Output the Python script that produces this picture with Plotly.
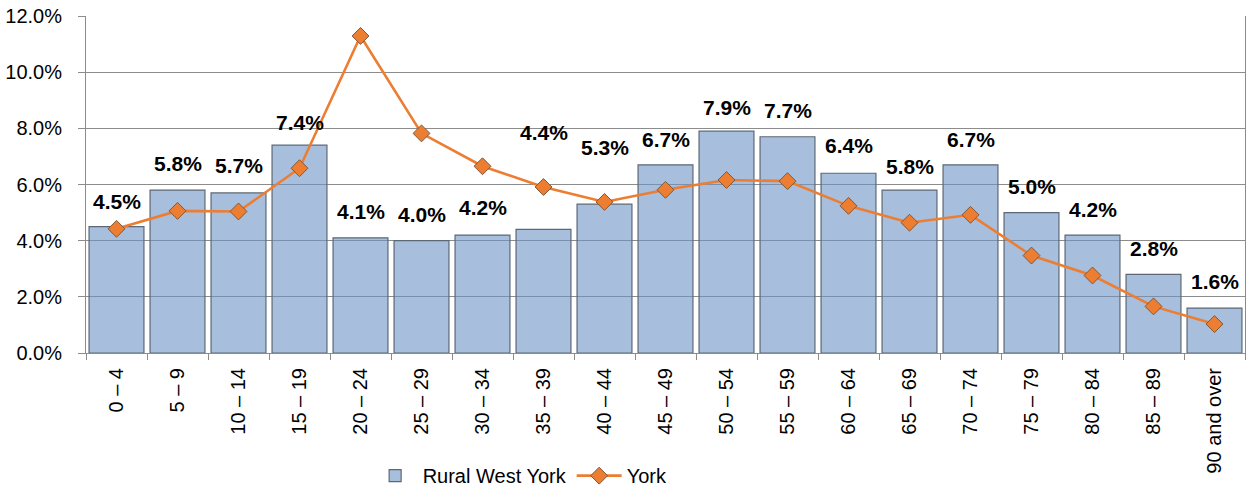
import plotly.graph_objects as go

categories = ["0 – 4", "5 – 9", "10 – 14", "15 – 19", "20 – 24", "25 – 29", "30 – 34",
              "35 – 39", "40 – 44", "45 – 49", "50 – 54", "55 – 59", "60 – 64", "65 – 69",
              "70 – 74", "75 – 79", "80 – 84", "85 – 89", "90 and over"]
rural_west_york = [4.5, 5.8, 5.7, 7.4, 4.1, 4.0, 4.2, 4.4, 5.3, 6.7, 7.9, 7.7, 6.4, 5.8,
                   6.7, 5.0, 4.2, 2.8, 1.6]
york = [4.42, 5.06, 5.04, 6.58, 11.29, 7.82, 6.65, 5.91, 5.38, 5.81, 6.16, 6.12, 5.24,
        4.64, 4.92, 3.47, 2.76, 1.66, 1.03]
y_ticks = [0, 2, 4, 6, 8, 10, 12]

# label placement (pixels above bar top)
label_shift = [25, 27, 27, 23, 26, 26, 28, 97, 57, 25, 24, 26, 28, 24, 25, 26, 26, 26, 27]

FONT = "Liberation Sans, Arial, sans-serif"

fig = go.Figure()
fig.add_trace(go.Bar(
    x=categories, y=rural_west_york, name="Rural West York",
    marker=dict(color="rgba(108,147,198,0.6)", line=dict(color="#5d6876", width=1.2)),
))
fig.add_trace(go.Scatter(
    x=categories, y=york, name="York", mode="lines+markers",
    line=dict(color="#ED7D31", width=2.6),
    marker=dict(symbol="diamond", size=13, color="#ED7D31",
                line=dict(color="#80593a", width=1)),
))

for c, v, s in zip(categories, rural_west_york, label_shift):
    fig.add_annotation(x=c, y=v, text=f"<b>{v:.1f}%</b>", showarrow=False,
                       yanchor="middle", yshift=s,
                       font=dict(family=FONT, size=21, color="#000000"))

fig.update_layout(
    width=1248, height=488,
    margin=dict(l=86, r=3, t=16, b=135, autoexpand=False),
    paper_bgcolor="white", plot_bgcolor="white",
    bargap=0.1,
    showlegend=True,
    font=dict(family=FONT, size=20, color="#000000"),
    legend=dict(orientation="h", x=0.243, xanchor="left", y=-0.364, yanchor="middle",
                font=dict(family=FONT, size=20), itemwidth=45, tracegroupgap=0,
                bgcolor="rgba(0,0,0,0)"),
)
fig.update_xaxes(
    type="category", tickangle=-90, tickson="boundaries", automargin=False,
    range=[-0.5, len(categories) - 0.5],
    ticks="outside", ticklen=6, tickcolor="#8c8c8c", ticklabelstandoff=6,
    showline=True, linecolor="#8c8c8c", linewidth=1,
    showgrid=False, tickfont=dict(family=FONT, size=20, color="#000000"),
)
fig.update_yaxes(
    range=[0, 12], tickvals=y_ticks, ticktext=[f"{t:.1f}%" for t in y_ticks],
    automargin=False, ticklabeloverflow="allow", ticklabelstandoff=12,
    ticks="outside", ticklen=7, tickcolor="#8c8c8c",
    showline=True, mirror=True, linecolor="#8c8c8c", linewidth=1,
    showgrid=True, gridcolor="#8c8c8c", gridwidth=1, zeroline=False,
    tickfont=dict(family=FONT, size=20, color="#000000"),
)

fig.write_html("out.html", config={"displayModeBar": False},
               post_script="document.body.style.margin='0';")
